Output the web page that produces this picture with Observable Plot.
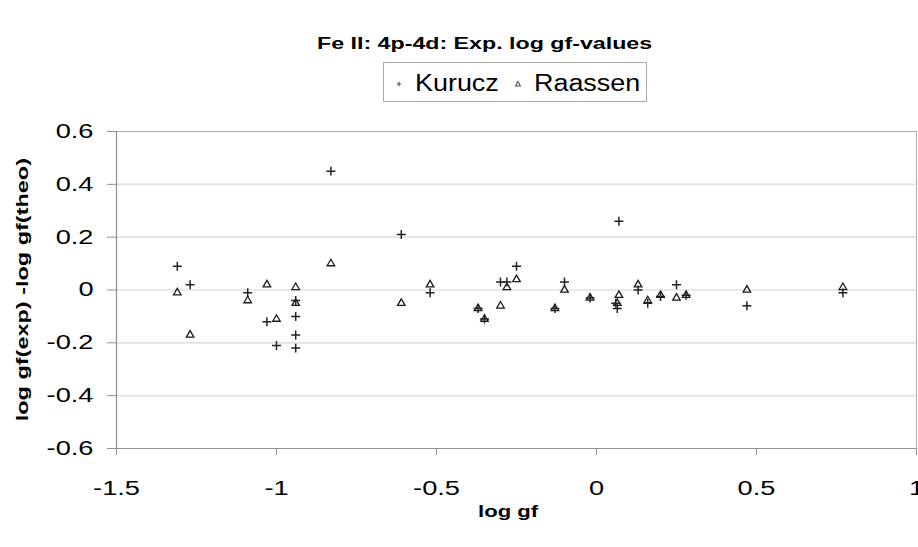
<!DOCTYPE html>
<html><head><meta charset="utf-8">
<script src="https://cdn.jsdelivr.net/npm/d3@7"></script>
<script src="https://cdn.jsdelivr.net/npm/@observablehq/plot@0.6"></script>
<style>
body{margin:0;background:#fff;font-family:"Liberation Sans",Arial,sans-serif;color:#000;}
#wrap{position:relative;width:918px;height:547px;overflow:hidden;}
.abs{position:absolute;white-space:nowrap;}
.st{display:inline-block;}
#title{left:-15px;width:1000px;top:35px;text-align:center;font-weight:bold;font-size:16px;line-height:18px;}
#title .st{transform:scaleX(1.45);}
#legend{left:383px;top:62px;width:264px;height:40px;border:1px solid #aaa;box-sizing:border-box;}
#legend .lt{position:absolute;top:8px;font-size:23px;line-height:24px;transform:scaleX(1.17);transform-origin:left center;}
#legend svg{position:absolute;}
#xlabel{left:308px;width:400px;top:502px;text-align:center;font-weight:bold;font-size:17px;line-height:20px;}
#xlabel .st{transform:scaleX(1.3);}
#ylabel{left:-177px;width:400px;top:278px;height:24px;line-height:24px;text-align:center;font-weight:bold;font-size:17px;transform:rotate(-90deg);}
#ylabel .st{transform:scaleX(1.38);}
</style></head><body><div id="wrap">
<div id="title" class="abs"><span class="st">Fe II: 4p-4d: Exp. log gf-values</span></div>
<div id="legend" class="abs">
  <svg width="10" height="10" style="left:10px;top:16px"><path d="M5,2.8V7.2M2.8,5H7.2" stroke="#555" stroke-width="1.2"/></svg>
  <span class="lt" style="left:31px">Kurucz</span>
  <svg width="10" height="10" style="left:129px;top:16px"><path d="M5,2.4L7.4,7H2.6Z" fill="none" stroke="#555" stroke-width="1.1"/></svg>
  <span class="lt" style="left:150px">Raassen</span>
</div>
<div id="chart" class="abs" style="left:0;top:110px"></div>
<div id="xlabel" class="abs"><span class="st">log gf</span></div>
<div id="ylabel" class="abs"><span class="st">log gf(exp) -log gf(theo)</span></div>
</div>
<script>
// Kurucz: log gf and log gf(exp) - log gf(theo)
const kuruczLogGf = [-1.31,-1.27,-1.09,-1.03,-1.00,-0.94,-0.94,-0.94,-0.94,-0.83,-0.61,-0.52,-0.37,-0.35,-0.30,-0.28,-0.25,-0.13,-0.10,-0.02,0.07,0.065,0.06,0.13,0.16,0.20,0.25,0.28,0.47,0.77];
const kuruczDiff  = [0.09,0.02,-0.01,-0.12,-0.21,-0.04,-0.10,-0.17,-0.22,0.45,0.21,-0.01,-0.07,-0.11,0.03,0.03,0.09,-0.07,0.03,-0.03,0.26,-0.07,-0.05,0.00,-0.05,-0.025,0.02,-0.02,-0.06,-0.01];
// Raassen
const raassenLogGf = [-1.31,-1.27,-1.09,-1.03,-1.00,-0.94,-0.94,-0.83,-0.61,-0.52,-0.37,-0.35,-0.30,-0.28,-0.25,-0.13,-0.10,-0.02,0.07,0.065,0.13,0.16,0.20,0.25,0.28,0.47,0.77];
const raassenDiff  = [-0.01,-0.17,-0.04,0.02,-0.11,0.01,-0.05,0.10,-0.05,0.02,-0.07,-0.11,-0.06,0.01,0.04,-0.07,0.00,-0.03,-0.02,-0.05,0.02,-0.04,-0.02,-0.03,-0.02,0.00,0.01];
const xTicks = [-1.5,-1,-0.5,0,0.5,1];
const yTicks = [-0.6,-0.4,-0.2,0,0.2,0.4,0.6];

const kurucz = kuruczLogGf.map((x,i)=>({x, y:kuruczDiff[i]}));
const raassen = raassenLogGf.map((x,i)=>({x, y:raassenDiff[i]}));
const fmt = d => Math.abs(d) < 1e-9 ? "0" : (Number.isInteger(d) ? String(d) : d.toFixed(1));

const plot = Plot.plot({
  width: 918, height: 437,
  marginTop: 21, marginLeft: 116, marginRight: 2, marginBottom: 99,
  style: {fontFamily: "'Liberation Sans', Arial, sans-serif", fontSize: "20px", color: "#000", background: "#fff"},
  x: {domain: [-1.5, 1]},
  y: {domain: [-0.6, 0.6]},
  marks: [
    Plot.gridY(yTicks.slice(1,-1), {stroke: "#e2e2e2", strokeOpacity: 1, strokeWidth: 1.6}),
    Plot.frame({stroke: "#b0b0b0"}),
    Plot.ruleX([-1.5], {stroke: "#909090", strokeWidth: 1.2}),
    Plot.ruleY([-0.6], {stroke: "#909090", strokeWidth: 1.2}),
    Plot.axisY(yTicks, {tickSize: 9, tickPadding: 14, tickFormat: fmt, stroke: "#909090", fill: "#000", label: null}),
    Plot.axisX(xTicks, {tickSize: 7, tickPadding: 25, tickFormat: fmt, stroke: "#909090", fill: "#000", label: null}),
    Plot.dot(raassen, {x: "x", y: "y", symbol: "triangle", r: 2.8, fill: "none", stroke: "#1a1a1a", strokeWidth: 1.3}),
    Plot.dot(kurucz, {x: "x", y: "y", symbol: "plus", r: 3.0, stroke: "#222", strokeWidth: 1.5})
  ]
});
document.getElementById("chart").appendChild(plot);
// widen tick labels horizontally to match the reference's wide type
plot.querySelectorAll("text").forEach(t => {
  const L = t.getComputedTextLength();
  if (L > 0) { t.setAttribute("textLength", (L*1.36).toFixed(1)); t.setAttribute("lengthAdjust", "spacingAndGlyphs"); }
});
</script>
</body></html>
